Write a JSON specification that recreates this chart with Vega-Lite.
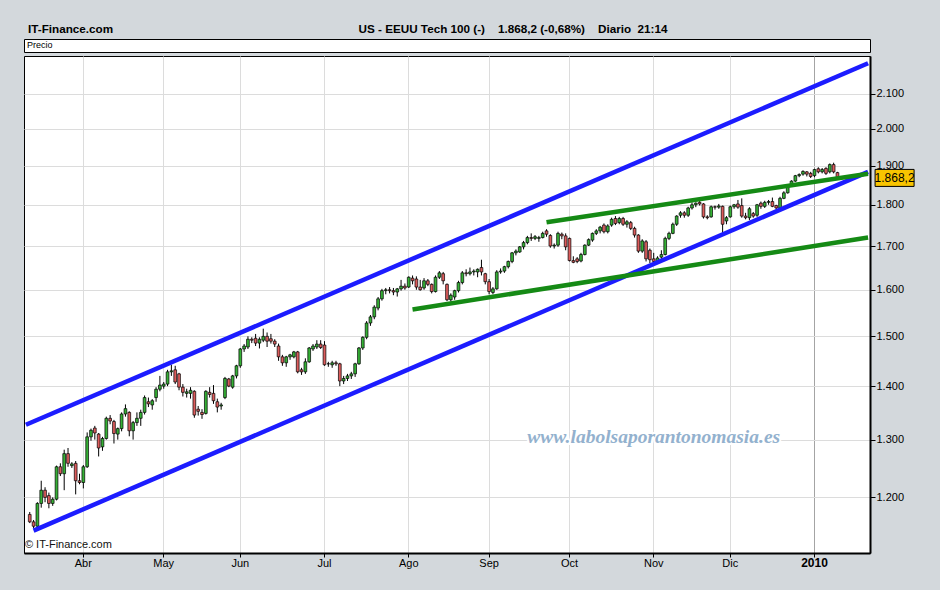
{
  "$schema": "https://vega.github.io/schema/vega-lite/v6.json",
  "autosize": {"type": "pad"},
  "padding": {"left": 23, "top": 23, "right": 23, "bottom": 25},
  "background": "#d3d8dc",
  "title": {
    "text": "IT-Finance.com\u2003\u2003\u2003\u2003\u2003\u2003\u2003\u2003\u2003\u2003\u2003\u2003\u2003\u2003\u2003\u2003\u2003\u2003\u2003\u2003\u2003US - EEUU Tech 100 (-)\u00a0\u00a0\u00a0\u00a01.868,2 (-0,68%)\u00a0\u00a0\u00a0\u00a0Diario\u00a0\u00a021:14",
    "anchor": "start", "frame": "group", "offset": 3, "dx": 4,
    "font": "Liberation Sans Narrow, Arial Narrow, Liberation Sans", "fontSize": 11.7, "fontWeight": "bold", "color": "#000"
  },
  "spacing": 2,
  "datasets": {
    "candles": [
      {"d":"2009-03-12","o":1172,"h":1176,"l":1158,"c":1160},
      {"d":"2009-03-13","o":1160,"h":1163,"l":1150,"c":1153},
      {"d":"2009-03-16","o":1153,"h":1192,"l":1150,"c":1190},
      {"d":"2009-03-17","o":1190,"h":1228,"l":1183,"c":1212},
      {"d":"2009-03-18","o":1212,"h":1217,"l":1192,"c":1200},
      {"d":"2009-03-19","o":1203,"h":1208,"l":1182,"c":1190},
      {"d":"2009-03-20","o":1190,"h":1200,"l":1186,"c":1197},
      {"d":"2009-03-23","o":1197,"h":1254,"l":1195,"c":1252},
      {"d":"2009-03-24","o":1252,"h":1258,"l":1236,"c":1240},
      {"d":"2009-03-25","o":1240,"h":1282,"l":1212,"c":1275},
      {"d":"2009-03-26","o":1275,"h":1285,"l":1252,"c":1258},
      {"d":"2009-03-27","o":1254,"h":1260,"l":1250,"c":1257},
      {"d":"2009-03-30","o":1258,"h":1262,"l":1205,"c":1228},
      {"d":"2009-03-31","o":1228,"h":1240,"l":1222,"c":1225},
      {"d":"2009-04-01","o":1225,"h":1255,"l":1215,"c":1252},
      {"d":"2009-04-02","o":1252,"h":1313,"l":1250,"c":1305},
      {"d":"2009-04-03","o":1305,"h":1320,"l":1298,"c":1317},
      {"d":"2009-04-06","o":1321,"h":1325,"l":1300,"c":1312},
      {"d":"2009-04-07","o":1310,"h":1312,"l":1270,"c":1285},
      {"d":"2009-04-08","o":1287,"h":1305,"l":1280,"c":1302},
      {"d":"2009-04-09","o":1302,"h":1342,"l":1300,"c":1339},
      {"d":"2009-04-13","o":1339,"h":1345,"l":1328,"c":1334},
      {"d":"2009-04-14","o":1333,"h":1336,"l":1293,"c":1311},
      {"d":"2009-04-15","o":1310,"h":1322,"l":1300,"c":1320},
      {"d":"2009-04-16","o":1320,"h":1350,"l":1315,"c":1347},
      {"d":"2009-04-17","o":1347,"h":1365,"l":1342,"c":1357},
      {"d":"2009-04-20","o":1350,"h":1352,"l":1306,"c":1316},
      {"d":"2009-04-21","o":1316,"h":1334,"l":1300,"c":1331},
      {"d":"2009-04-22","o":1331,"h":1350,"l":1325,"c":1339},
      {"d":"2009-04-23","o":1339,"h":1355,"l":1325,"c":1350},
      {"d":"2009-04-24","o":1350,"h":1382,"l":1346,"c":1378},
      {"d":"2009-04-27","o":1370,"h":1378,"l":1360,"c":1366},
      {"d":"2009-04-28","o":1364,"h":1375,"l":1355,"c":1372},
      {"d":"2009-04-29","o":1378,"h":1398,"l":1370,"c":1394},
      {"d":"2009-04-30","o":1394,"h":1420,"l":1390,"c":1402},
      {"d":"2009-05-01","o":1400,"h":1408,"l":1395,"c":1404},
      {"d":"2009-05-04","o":1404,"h":1432,"l":1400,"c":1428},
      {"d":"2009-05-05","o":1428,"h":1442,"l":1420,"c":1430},
      {"d":"2009-05-06","o":1432,"h":1440,"l":1404,"c":1408},
      {"d":"2009-05-07","o":1424,"h":1426,"l":1392,"c":1398},
      {"d":"2009-05-08","o":1398,"h":1404,"l":1380,"c":1388},
      {"d":"2009-05-11","o":1386,"h":1395,"l":1378,"c":1389},
      {"d":"2009-05-12","o":1386,"h":1398,"l":1376,"c":1392},
      {"d":"2009-05-13","o":1390,"h":1392,"l":1340,"c":1345},
      {"d":"2009-05-14","o":1356,"h":1362,"l":1344,"c":1352},
      {"d":"2009-05-15","o":1350,"h":1356,"l":1338,"c":1346},
      {"d":"2009-05-18","o":1348,"h":1392,"l":1346,"c":1390},
      {"d":"2009-05-19","o":1388,"h":1398,"l":1378,"c":1384},
      {"d":"2009-05-20","o":1386,"h":1402,"l":1366,"c":1372},
      {"d":"2009-05-21","o":1370,"h":1376,"l":1350,"c":1360},
      {"d":"2009-05-22","o":1362,"h":1368,"l":1355,"c":1364},
      {"d":"2009-05-26","o":1378,"h":1418,"l":1375,"c":1415},
      {"d":"2009-05-27","o":1414,"h":1416,"l":1398,"c":1400},
      {"d":"2009-05-28","o":1398,"h":1422,"l":1395,"c":1420},
      {"d":"2009-05-29","o":1420,"h":1442,"l":1415,"c":1440},
      {"d":"2009-06-01","o":1440,"h":1476,"l":1436,"c":1474},
      {"d":"2009-06-02","o":1474,"h":1484,"l":1468,"c":1480},
      {"d":"2009-06-03","o":1478,"h":1500,"l":1474,"c":1494},
      {"d":"2009-06-04","o":1494,"h":1498,"l":1486,"c":1492},
      {"d":"2009-06-05","o":1496,"h":1505,"l":1480,"c":1486},
      {"d":"2009-06-08","o":1486,"h":1498,"l":1475,"c":1494},
      {"d":"2009-06-09","o":1492,"h":1516,"l":1488,"c":1500},
      {"d":"2009-06-10","o":1500,"h":1508,"l":1478,"c":1490},
      {"d":"2009-06-11","o":1495,"h":1505,"l":1485,"c":1490},
      {"d":"2009-06-12","o":1490,"h":1494,"l":1478,"c":1484},
      {"d":"2009-06-15","o":1480,"h":1485,"l":1450,"c":1458},
      {"d":"2009-06-16","o":1458,"h":1462,"l":1440,"c":1446},
      {"d":"2009-06-17","o":1446,"h":1460,"l":1438,"c":1458},
      {"d":"2009-06-18","o":1458,"h":1464,"l":1452,"c":1462},
      {"d":"2009-06-19","o":1458,"h":1470,"l":1455,"c":1468},
      {"d":"2009-06-22","o":1468,"h":1470,"l":1425,"c":1428},
      {"d":"2009-06-23","o":1432,"h":1436,"l":1422,"c":1428},
      {"d":"2009-06-24","o":1428,"h":1455,"l":1424,"c":1448},
      {"d":"2009-06-25","o":1448,"h":1478,"l":1446,"c":1476},
      {"d":"2009-06-26","o":1474,"h":1484,"l":1470,"c":1480},
      {"d":"2009-06-29","o":1478,"h":1492,"l":1474,"c":1484},
      {"d":"2009-06-30","o":1484,"h":1492,"l":1474,"c":1477},
      {"d":"2009-07-01","o":1482,"h":1490,"l":1440,"c":1442},
      {"d":"2009-07-02","o":1444,"h":1448,"l":1438,"c":1444},
      {"d":"2009-07-06","o":1442,"h":1450,"l":1436,"c":1446},
      {"d":"2009-07-07","o":1446,"h":1450,"l":1440,"c":1444},
      {"d":"2009-07-08","o":1444,"h":1446,"l":1400,"c":1410},
      {"d":"2009-07-09","o":1410,"h":1420,"l":1404,"c":1415},
      {"d":"2009-07-10","o":1415,"h":1424,"l":1410,"c":1420},
      {"d":"2009-07-13","o":1420,"h":1428,"l":1414,"c":1424},
      {"d":"2009-07-14","o":1424,"h":1446,"l":1418,"c":1444},
      {"d":"2009-07-15","o":1444,"h":1478,"l":1442,"c":1476},
      {"d":"2009-07-16","o":1476,"h":1500,"l":1472,"c":1498},
      {"d":"2009-07-17","o":1498,"h":1532,"l":1494,"c":1528},
      {"d":"2009-07-20","o":1528,"h":1545,"l":1522,"c":1541},
      {"d":"2009-07-21","o":1541,"h":1566,"l":1536,"c":1562},
      {"d":"2009-07-22","o":1560,"h":1584,"l":1555,"c":1580},
      {"d":"2009-07-23","o":1580,"h":1602,"l":1576,"c":1598},
      {"d":"2009-07-24","o":1598,"h":1604,"l":1590,"c":1600},
      {"d":"2009-07-27","o":1600,"h":1606,"l":1592,"c":1598},
      {"d":"2009-07-28","o":1598,"h":1604,"l":1588,"c":1595},
      {"d":"2009-07-29","o":1595,"h":1604,"l":1585,"c":1602},
      {"d":"2009-07-30","o":1602,"h":1622,"l":1598,"c":1608},
      {"d":"2009-07-31","o":1608,"h":1614,"l":1600,"c":1604},
      {"d":"2009-08-03","o":1606,"h":1630,"l":1604,"c":1628},
      {"d":"2009-08-04","o":1626,"h":1632,"l":1612,"c":1620},
      {"d":"2009-08-05","o":1624,"h":1630,"l":1600,"c":1606},
      {"d":"2009-08-06","o":1606,"h":1622,"l":1598,"c":1600},
      {"d":"2009-08-07","o":1604,"h":1626,"l":1600,"c":1620},
      {"d":"2009-08-10","o":1620,"h":1624,"l":1608,"c":1612},
      {"d":"2009-08-11","o":1612,"h":1614,"l":1592,"c":1596},
      {"d":"2009-08-12","o":1596,"h":1632,"l":1594,"c":1628},
      {"d":"2009-08-13","o":1628,"h":1642,"l":1624,"c":1638},
      {"d":"2009-08-14","o":1636,"h":1640,"l":1612,"c":1620},
      {"d":"2009-08-17","o":1612,"h":1614,"l":1575,"c":1578},
      {"d":"2009-08-18","o":1578,"h":1592,"l":1574,"c":1588},
      {"d":"2009-08-19","o":1584,"h":1600,"l":1578,"c":1598},
      {"d":"2009-08-20","o":1598,"h":1620,"l":1594,"c":1616},
      {"d":"2009-08-21","o":1616,"h":1642,"l":1612,"c":1638},
      {"d":"2009-08-24","o":1638,"h":1646,"l":1630,"c":1636},
      {"d":"2009-08-25","o":1636,"h":1650,"l":1632,"c":1640},
      {"d":"2009-08-26","o":1640,"h":1646,"l":1632,"c":1642},
      {"d":"2009-08-27","o":1640,"h":1648,"l":1628,"c":1646},
      {"d":"2009-08-28","o":1650,"h":1668,"l":1632,"c":1640},
      {"d":"2009-08-31","o":1636,"h":1638,"l":1612,"c":1618},
      {"d":"2009-09-01","o":1618,"h":1624,"l":1590,"c":1596},
      {"d":"2009-09-02","o":1594,"h":1606,"l":1590,"c":1602},
      {"d":"2009-09-03","o":1602,"h":1644,"l":1600,"c":1640},
      {"d":"2009-09-04","o":1640,"h":1648,"l":1636,"c":1642},
      {"d":"2009-09-08","o":1642,"h":1654,"l":1638,"c":1652},
      {"d":"2009-09-09","o":1652,"h":1666,"l":1648,"c":1664},
      {"d":"2009-09-10","o":1664,"h":1686,"l":1660,"c":1684},
      {"d":"2009-09-11","o":1684,"h":1692,"l":1678,"c":1688},
      {"d":"2009-09-14","o":1686,"h":1700,"l":1684,"c":1698},
      {"d":"2009-09-15","o":1698,"h":1712,"l":1692,"c":1708},
      {"d":"2009-09-16","o":1708,"h":1724,"l":1704,"c":1720},
      {"d":"2009-09-17","o":1720,"h":1730,"l":1712,"c":1718},
      {"d":"2009-09-18","o":1718,"h":1726,"l":1714,"c":1722},
      {"d":"2009-09-21","o":1718,"h":1724,"l":1710,"c":1720},
      {"d":"2009-09-22","o":1720,"h":1734,"l":1718,"c":1730},
      {"d":"2009-09-23","o":1736,"h":1740,"l":1722,"c":1728},
      {"d":"2009-09-24","o":1725,"h":1728,"l":1696,"c":1700},
      {"d":"2009-09-25","o":1700,"h":1706,"l":1694,"c":1702},
      {"d":"2009-09-28","o":1702,"h":1734,"l":1698,"c":1730},
      {"d":"2009-09-29","o":1728,"h":1732,"l":1716,"c":1724},
      {"d":"2009-09-30","o":1724,"h":1730,"l":1690,"c":1698},
      {"d":"2009-10-01","o":1718,"h":1720,"l":1664,"c":1666},
      {"d":"2009-10-02","o":1666,"h":1676,"l":1660,"c":1662},
      {"d":"2009-10-05","o":1670,"h":1674,"l":1660,"c":1664},
      {"d":"2009-10-06","o":1665,"h":1684,"l":1662,"c":1680},
      {"d":"2009-10-07","o":1680,"h":1704,"l":1678,"c":1702},
      {"d":"2009-10-08","o":1702,"h":1718,"l":1700,"c":1715},
      {"d":"2009-10-09","o":1714,"h":1732,"l":1710,"c":1730},
      {"d":"2009-10-12","o":1730,"h":1740,"l":1726,"c":1736},
      {"d":"2009-10-13","o":1736,"h":1748,"l":1730,"c":1745},
      {"d":"2009-10-14","o":1750,"h":1754,"l":1730,"c":1734},
      {"d":"2009-10-15","o":1734,"h":1752,"l":1730,"c":1748},
      {"d":"2009-10-16","o":1750,"h":1768,"l":1746,"c":1764},
      {"d":"2009-10-19","o":1766,"h":1772,"l":1750,"c":1754},
      {"d":"2009-10-20","o":1756,"h":1770,"l":1752,"c":1766},
      {"d":"2009-10-21","o":1766,"h":1770,"l":1748,"c":1752},
      {"d":"2009-10-22","o":1752,"h":1762,"l":1744,"c":1758},
      {"d":"2009-10-23","o":1756,"h":1760,"l":1738,"c":1742},
      {"d":"2009-10-26","o":1742,"h":1746,"l":1720,"c":1726},
      {"d":"2009-10-27","o":1726,"h":1728,"l":1684,"c":1688},
      {"d":"2009-10-28","o":1688,"h":1716,"l":1684,"c":1712},
      {"d":"2009-10-29","o":1710,"h":1714,"l":1664,"c":1670},
      {"d":"2009-10-30","o":1690,"h":1694,"l":1660,"c":1668},
      {"d":"2009-11-02","o":1670,"h":1684,"l":1654,"c":1664},
      {"d":"2009-11-03","o":1662,"h":1676,"l":1658,"c":1672},
      {"d":"2009-11-04","o":1674,"h":1690,"l":1670,"c":1680},
      {"d":"2009-11-05","o":1680,"h":1722,"l":1678,"c":1718},
      {"d":"2009-11-06","o":1718,"h":1734,"l":1714,"c":1730},
      {"d":"2009-11-09","o":1730,"h":1756,"l":1728,"c":1752},
      {"d":"2009-11-10","o":1752,"h":1774,"l":1748,"c":1772},
      {"d":"2009-11-11","o":1774,"h":1784,"l":1768,"c":1780},
      {"d":"2009-11-12","o":1780,"h":1784,"l":1768,"c":1774},
      {"d":"2009-11-13","o":1774,"h":1795,"l":1770,"c":1792},
      {"d":"2009-11-16","o":1792,"h":1806,"l":1788,"c":1800},
      {"d":"2009-11-17","o":1800,"h":1806,"l":1794,"c":1804},
      {"d":"2009-11-18","o":1806,"h":1816,"l":1798,"c":1802},
      {"d":"2009-11-19","o":1802,"h":1804,"l":1766,"c":1770},
      {"d":"2009-11-20","o":1770,"h":1774,"l":1764,"c":1768},
      {"d":"2009-11-23","o":1770,"h":1798,"l":1768,"c":1795},
      {"d":"2009-11-24","o":1795,"h":1798,"l":1788,"c":1794},
      {"d":"2009-11-25","o":1794,"h":1802,"l":1790,"c":1797},
      {"d":"2009-11-27","o":1796,"h":1798,"l":1730,"c":1752},
      {"d":"2009-11-30","o":1760,"h":1772,"l":1752,"c":1768},
      {"d":"2009-12-01","o":1770,"h":1798,"l":1768,"c":1795},
      {"d":"2009-12-02","o":1795,"h":1802,"l":1790,"c":1800},
      {"d":"2009-12-03","o":1802,"h":1812,"l":1790,"c":1794},
      {"d":"2009-12-04","o":1798,"h":1816,"l":1768,"c":1772},
      {"d":"2009-12-07","o":1772,"h":1780,"l":1764,"c":1768},
      {"d":"2009-12-08","o":1768,"h":1794,"l":1762,"c":1790},
      {"d":"2009-12-09","o":1778,"h":1782,"l":1768,"c":1772},
      {"d":"2009-12-10","o":1774,"h":1802,"l":1770,"c":1800},
      {"d":"2009-12-11","o":1804,"h":1808,"l":1790,"c":1796},
      {"d":"2009-12-14","o":1796,"h":1810,"l":1792,"c":1806},
      {"d":"2009-12-15","o":1806,"h":1812,"l":1800,"c":1808},
      {"d":"2009-12-16","o":1808,"h":1818,"l":1794,"c":1796},
      {"d":"2009-12-17","o":1798,"h":1800,"l":1788,"c":1792},
      {"d":"2009-12-18","o":1792,"h":1820,"l":1790,"c":1816},
      {"d":"2009-12-21","o":1816,"h":1834,"l":1814,"c":1830},
      {"d":"2009-12-22","o":1830,"h":1852,"l":1828,"c":1850},
      {"d":"2009-12-23","o":1850,"h":1862,"l":1848,"c":1860},
      {"d":"2009-12-24","o":1860,"h":1876,"l":1858,"c":1874},
      {"d":"2009-12-28","o":1874,"h":1880,"l":1870,"c":1877},
      {"d":"2009-12-29","o":1878,"h":1888,"l":1874,"c":1885},
      {"d":"2009-12-30","o":1884,"h":1886,"l":1872,"c":1878},
      {"d":"2009-12-31","o":1880,"h":1884,"l":1868,"c":1872},
      {"d":"2010-01-04","o":1874,"h":1892,"l":1870,"c":1890},
      {"d":"2010-01-05","o":1892,"h":1896,"l":1880,"c":1884},
      {"d":"2010-01-06","o":1884,"h":1894,"l":1880,"c":1890},
      {"d":"2010-01-07","o":1893,"h":1896,"l":1876,"c":1880},
      {"d":"2010-01-08","o":1884,"h":1906,"l":1880,"c":1903},
      {"d":"2010-01-11","o":1903,"h":1908,"l":1880,"c":1884},
      {"d":"2010-01-12","o":1882,"h":1884,"l":1864,"c":1868.2}
    ],
    "lines": [
      {"id":"up","d":"2009-03-11","p":1327},{"id":"up","d":"2010-01-25","p":2190},
      {"id":"lo","d":"2009-03-13","p":1146},{"id":"lo","d":"2010-01-25","p":1884},
      {"id":"g1","d":"2009-09-23","p":1757},{"id":"g1","d":"2010-01-25","p":1879},
      {"id":"g2","d":"2009-08-04","p":1557},{"id":"g2","d":"2010-01-25","p":1720}
    ]
  },
  "vconcat": [
    {
      "width": 846, "height": 13,
      "data": {"values": [{"v": 0}]},
      "mark": {"type": "text", "text": ""},
      "encoding": {"x": {"field": "v", "type": "quantitative", "axis": null}},
      "view": {"fill": "white", "stroke": "#000", "strokeWidth": 1},
      "title": {"text": "Precio", "anchor": "start", "frame": "group", "offset": -11, "dx": 3,
        "font": "Liberation Sans Narrow, Arial Narrow, Liberation Sans", "fontSize": 9, "fontWeight": "normal", "color": "#000"}
    },
    {
      "width": 846, "height": 497,
      "encoding": {
        "x": {
          "field": "d", "type": "ordinal",
          "scale": {"paddingInner": 0, "paddingOuter": 0, "domain": [
            "2009-03-11","2009-03-12","2009-03-13","2009-03-16","2009-03-17","2009-03-18","2009-03-19","2009-03-20","2009-03-23","2009-03-24","2009-03-25","2009-03-26","2009-03-27","2009-03-30","2009-03-31",
            "2009-04-01","2009-04-02","2009-04-03","2009-04-06","2009-04-07","2009-04-08","2009-04-09","2009-04-13","2009-04-14","2009-04-15","2009-04-16","2009-04-17","2009-04-20","2009-04-21","2009-04-22","2009-04-23","2009-04-24","2009-04-27","2009-04-28","2009-04-29","2009-04-30",
            "2009-05-01","2009-05-04","2009-05-05","2009-05-06","2009-05-07","2009-05-08","2009-05-11","2009-05-12","2009-05-13","2009-05-14","2009-05-15","2009-05-18","2009-05-19","2009-05-20","2009-05-21","2009-05-22","2009-05-26","2009-05-27","2009-05-28","2009-05-29",
            "2009-06-01","2009-06-02","2009-06-03","2009-06-04","2009-06-05","2009-06-08","2009-06-09","2009-06-10","2009-06-11","2009-06-12","2009-06-15","2009-06-16","2009-06-17","2009-06-18","2009-06-19","2009-06-22","2009-06-23","2009-06-24","2009-06-25","2009-06-26","2009-06-29","2009-06-30",
            "2009-07-01","2009-07-02","2009-07-06","2009-07-07","2009-07-08","2009-07-09","2009-07-10","2009-07-13","2009-07-14","2009-07-15","2009-07-16","2009-07-17","2009-07-20","2009-07-21","2009-07-22","2009-07-23","2009-07-24","2009-07-27","2009-07-28","2009-07-29","2009-07-30","2009-07-31",
            "2009-08-03","2009-08-04","2009-08-05","2009-08-06","2009-08-07","2009-08-10","2009-08-11","2009-08-12","2009-08-13","2009-08-14","2009-08-17","2009-08-18","2009-08-19","2009-08-20","2009-08-21","2009-08-24","2009-08-25","2009-08-26","2009-08-27","2009-08-28","2009-08-31",
            "2009-09-01","2009-09-02","2009-09-03","2009-09-04","2009-09-08","2009-09-09","2009-09-10","2009-09-11","2009-09-14","2009-09-15","2009-09-16","2009-09-17","2009-09-18","2009-09-21","2009-09-22","2009-09-23","2009-09-24","2009-09-25","2009-09-28","2009-09-29","2009-09-30",
            "2009-10-01","2009-10-02","2009-10-05","2009-10-06","2009-10-07","2009-10-08","2009-10-09","2009-10-12","2009-10-13","2009-10-14","2009-10-15","2009-10-16","2009-10-19","2009-10-20","2009-10-21","2009-10-22","2009-10-23","2009-10-26","2009-10-27","2009-10-28","2009-10-29","2009-10-30",
            "2009-11-02","2009-11-03","2009-11-04","2009-11-05","2009-11-06","2009-11-09","2009-11-10","2009-11-11","2009-11-12","2009-11-13","2009-11-16","2009-11-17","2009-11-18","2009-11-19","2009-11-20","2009-11-23","2009-11-24","2009-11-25","2009-11-27","2009-11-30",
            "2009-12-01","2009-12-02","2009-12-03","2009-12-04","2009-12-07","2009-12-08","2009-12-09","2009-12-10","2009-12-11","2009-12-14","2009-12-15","2009-12-16","2009-12-17","2009-12-18","2009-12-21","2009-12-22","2009-12-23","2009-12-24","2009-12-28","2009-12-29","2009-12-30","2009-12-31",
            "2010-01-04","2010-01-05","2010-01-06","2010-01-07","2010-01-08","2010-01-11","2010-01-12","2010-01-13","2010-01-14","2010-01-15","2010-01-19","2010-01-20","2010-01-21","2010-01-22","2010-01-25"
          ]},
          "axis": {
            "title": null,
            "values": ["2009-04-01","2009-05-01","2009-06-01","2009-07-01","2009-08-03","2009-09-01","2009-10-01","2009-11-02","2009-12-01","2010-01-04"],
            "labelExpr": "datum.value == '2010-01-04' ? '2010' : ['Ene','Feb','Mar','Abr','May','Jun','Jul','Ago','Sep','Oct','Nov','Dic'][toNumber(slice(datum.value, 5, 7)) - 1]",
            "labelAngle": 0,
            "bandPosition": 0.5,
            "grid": true,
            "gridColor": {"condition": {"test": "datum.value == '2010-01-04'", "value": "#a4a4a4"}, "value": "#dcdcdc"},
            "domainColor": "#000", "domainWidth": 2,
            "tickColor": "#000", "tickSize": 4,
            "labelFont": "Liberation Sans", "labelColor": "#000", "labelPadding": 0,
            "labelFontSize": {"condition": {"test": "datum.value == '2010-01-04'", "value": 12}, "value": 11},
            "labelFontWeight": {"condition": {"test": "datum.value == '2010-01-04'", "value": "bold"}, "value": "normal"}
          }
        }
      },
      "layer": [
        {
          "data": {"values": [{"d": "2009-11-02", "p": 1304, "t": "www.labolsaporantonomasia.es"}]},
          "mark": {"type": "text", "font": "Liberation Serif", "fontSize": 19.5, "fontStyle": "italic", "fontWeight": "bold", "color": "#ffffff", "stroke": "#ffffff", "strokeWidth": 4, "baseline": "middle", "align": "center"},
          "encoding": {"y": {"field": "p", "type": "quantitative", "scale": {"type": "log", "domain": [1111, 2212], "nice": false}}, "text": {"field": "t"}}
        },
        {
          "data": {"name": "candles"},
          "mark": {"type": "rule", "color": "#000", "strokeWidth": 1},
          "encoding": {
            "y": {"field": "l", "type": "quantitative",
              "axis": {"orient": "right", "title": null,
                "values": [1200,1300,1400,1500,1600,1700,1800,1900,2000,2100],
                "labelExpr": "replace(format(datum.value, ','), ',', '.')",
                "grid": true, "gridColor": "#dcdcdc",
                "domainColor": "#000", "domainWidth": 2,
                "tickColor": "#000", "tickSize": 5,
                "labelFont": "Liberation Sans", "labelFontSize": 11, "labelColor": "#000", "labelPadding": 1}},
            "y2": {"field": "h"}
          }
        },
        {
          "data": {"name": "candles"},
          "mark": {"type": "bar", "width": {"band": 0.72}, "stroke": "#000", "strokeWidth": 0.7},
          "encoding": {
            "y": {"field": "o", "type": "quantitative"},
            "y2": {"field": "c"},
            "fill": {"condition": {"test": "datum.c >= datum.o", "value": "#35b035"}, "value": "#dc5c5c"}
          }
        },
        {
          "data": {"name": "lines"},
          "mark": {"type": "line", "clip": true, "strokeWidth": 4.5, "strokeCap": "butt"},
          "encoding": {
            "y": {"field": "p", "type": "quantitative"},
            "detail": {"field": "id"},
            "color": {"field": "id", "type": "nominal", "legend": null,
              "scale": {"domain": ["up","lo","g1","g2"], "range": ["#1c1cff","#1c1cff","#158a15","#158a15"]}}
          }
        },
        {
          "data": {"values": [{"d": "2009-11-02", "p": 1304, "t": "www.labolsaporantonomasia.es"}]},
          "mark": {"type": "text", "font": "Liberation Serif", "fontSize": 19.5, "fontStyle": "italic", "fontWeight": "bold", "color": "#93b1ce", "baseline": "middle", "align": "center"},
          "encoding": {"y": {"field": "p", "type": "quantitative"}, "text": {"field": "t"}}
        },
        {
          "data": {"values": [{"d": "2009-03-11", "p": 1124, "t": "© IT-Finance.com"}]},
          "mark": {"type": "text", "font": "Liberation Sans", "fontSize": 11, "color": "#111", "baseline": "middle", "align": "left", "dx": -1},
          "encoding": {"y": {"field": "p", "type": "quantitative"}, "text": {"field": "t"}}
        },
        {
          "data": {"values": [{"d": "2010-01-25", "p": 1868.2, "t": "1.868,2"}]},
          "mark": {"type": "point", "shape": "M0.14,-0.17L0.92,-0.17L0.92,0.17L0.14,0.17Z", "size": 10000, "filled": true, "fill": "#f8c400", "stroke": "#000", "strokeWidth": 1, "opacity": 1, "fillOpacity": 1},
          "encoding": {"y": {"field": "p", "type": "quantitative"}}
        },
        {
          "data": {"values": [{"d": "2010-01-25", "p": 1868.2, "t": "1.868,2"}]},
          "mark": {"type": "text", "font": "Liberation Sans", "fontSize": 12, "color": "#000", "baseline": "middle", "align": "center", "dx": 26.5},
          "encoding": {"y": {"field": "p", "type": "quantitative"}, "text": {"field": "t"}}
        }
      ]
    }
  ],
  "config": {
    "view": {"fill": "white", "stroke": "#000", "strokeWidth": 1},
    "axis": {"labelFont": "Liberation Sans"}
  }
}
